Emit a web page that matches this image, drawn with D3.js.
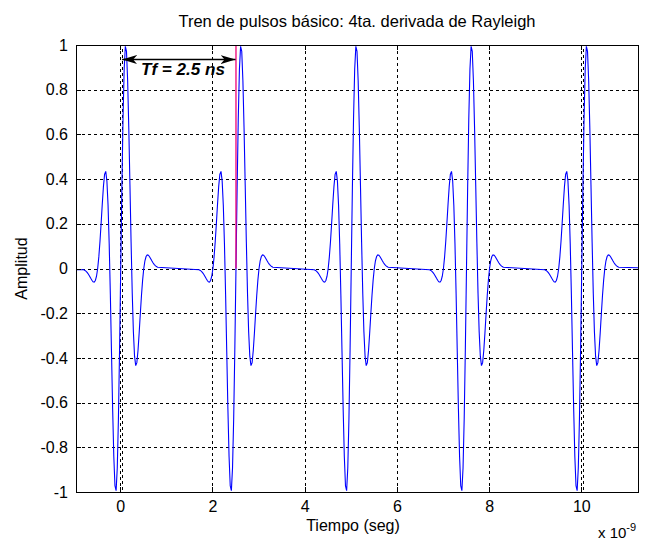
<!DOCTYPE html>
<html><head><meta charset="utf-8">
<script src="https://cdn.jsdelivr.net/npm/d3@7"></script>
<style>body{margin:0;background:#fff}svg{display:block}text{font-family:Arial,"Liberation Sans",sans-serif}</style>
</head><body><div id="chart"></div>
<script>
// ---- data ----
const title = "Tren de pulsos básico: 4ta. derivada de Rayleigh";
const xLabel = "Tiempo (seg)";
const yLabel = "Amplitud";
const xTicks = [0, 2, 4, 6, 8, 10];           // in units of 1e-9 s
const yTicks = [-1, -0.8, -0.6, -0.4, -0.2, 0, 0.2, 0.4, 0.6, 0.8, 1];
const xDomain = [-0.96, 11.23];
const yDomain = [-1, 1];
// pulse centres (ns)
const pulseCenters = [0.01, 2.51, 5.01, 7.51, 10.01];
// dotted marker lines (ns)
const markerLines = [0.03, 10.03];
// sample spacing of one pulse (ns) and amplitudes from -0.8 ns to +0.8 ns
const pulseStep = 0.025;
const pulseShape = [
 -0.0056,-0.0086,-0.0128,-0.0185,-0.0258,-0.0343,-0.0437,-0.0526,-0.0592,-0.0607,-0.0537,-0.0346,0.0000,
  0.0519,0.1207,0.2023,0.2886,0.3668,0.4212,0.4348,0.3922,0.2843,0.1107,-0.1169,-0.3749,-0.6293,
 -0.8410,-0.9722,-0.9938,-0.8922,-0.6730,-0.3618,0.0000,
  0.3618,0.6730,0.8922,0.9938,0.9722,0.8410,0.6293,0.3749,0.1169,-0.1107,-0.2843,-0.3922,-0.4348,
 -0.4212,-0.3668,-0.2886,-0.2023,-0.1207,-0.0519,0.0000,0.0346,0.0537,0.0607,0.0592,0.0526,0.0437,
  0.0343,0.0258,0.0185,0.0128,0.0086,0.0056
];
const periodLabel = "Tf = 2.5 ns";
const periodArrow = {from: 0.04, to: 2.50, y: 0.935};
const magentaAt = 2.51;
const exponentLabel = "-9";

// ---- build series ----
const series = [{t: -2, v: 0}];
const half = (pulseShape.length - 1) / 2;
pulseCenters.forEach(c => {
  pulseShape.forEach((v, i) => series.push({t: c + (i - half) * pulseStep, v}));
});
series.push({t: 12, v: 0});

// ---- layout ----
const W = 645, H = 545;
const L = 76, R = 638, T = 45, B = 492;
const FS = 16;
const svg = d3.select("#chart").append("svg").attr("width", W).attr("height", H);
const x = d3.scaleLinear().domain(xDomain).range([L, R]);
const y = d3.scaleLinear().domain(yDomain).range([B, T]);
const defs = svg.append("defs");
defs.append("clipPath").attr("id", "clip")
  .append("rect").attr("x", L).attr("y", T - 1).attr("width", R - L).attr("height", B - T + 2);

// grid
const grid = svg.append("g").attr("stroke", "#000").attr("stroke-width", 1).attr("stroke-dasharray", "3,3").attr("shape-rendering", "crispEdges");
xTicks.forEach(t => grid.append("line").attr("x1", Math.round(x(t)) + 0.5).attr("x2", Math.round(x(t)) + 0.5).attr("y1", T).attr("y2", B));
yTicks.forEach(t => grid.append("line").attr("y1", Math.round(y(t)) + 0.5).attr("y2", Math.round(y(t)) + 0.5).attr("x1", L).attr("x2", R));

// extra dotted markers
markerLines.forEach(c => {
  svg.append("line").attr("x1", Math.round(x(c)) + 0.5).attr("x2", Math.round(x(c)) + 0.5).attr("y1", T).attr("y2", B)
    .attr("stroke", "#000").attr("stroke-dasharray", "3,3").attr("stroke-dashoffset", 2).attr("shape-rendering", "crispEdges");
});

// signal
const line = d3.line().x(d => x(d.t)).y(d => y(d.v));
svg.append("path").datum(series).attr("clip-path", "url(#clip)")
  .attr("d", line).attr("fill", "none").attr("stroke", "#0000ff").attr("stroke-width", 1.1);

// magenta marker
svg.append("line").attr("x1", x(magentaAt)).attr("x2", x(magentaAt)).attr("y1", y(0)).attr("y2", y(1))
  .attr("stroke", "#ee0077").attr("stroke-width", 1.3);

// axes box & ticks
const axB = svg.append("g").attr("transform", `translate(0,${B})`).call(d3.axisBottom(x).tickValues(xTicks).tickSize(-5).tickFormat(d => String(d)));
const axT = svg.append("g").attr("transform", `translate(0,${T})`).call(d3.axisTop(x).tickValues(xTicks).tickSize(-5).tickFormat(""));
const axL = svg.append("g").attr("transform", `translate(${L},0)`).call(d3.axisLeft(y).tickValues(yTicks).tickSize(-5).tickPadding(8).tickFormat(d => String(d)));
const axR = svg.append("g").attr("transform", `translate(${R},0)`).call(d3.axisRight(y).tickValues(yTicks).tickSize(-5).tickFormat(""));
[axB, axT, axL, axR].forEach(a => {
  a.select(".domain").attr("stroke", "#000").attr("shape-rendering", "crispEdges");
  a.selectAll(".tick line").attr("stroke", "#000").attr("shape-rendering", "crispEdges");
  a.selectAll("text").attr("font-size", FS).attr("fill", "#000").attr("font-family", "Arial, 'Liberation Sans', sans-serif");
});
axB.selectAll(".tick text").attr("y", 20).attr("dy", 0);

// arrow
["start", "end"].forEach(k => {
  defs.append("marker").attr("id", "ah-" + k).attr("viewBox", "0 0 15 9").attr("refX", 15).attr("refY", 4.5)
    .attr("markerWidth", 15).attr("markerHeight", 9).attr("markerUnits", "userSpaceOnUse").attr("orient", k === "start" ? "auto-start-reverse" : "auto")
    .append("path").attr("d", "M0,0 L15,4.5 L0,9 L4,4.5 Z").attr("fill", "#000");
});
svg.append("line").attr("x1", x(periodArrow.from)).attr("x2", x(periodArrow.to))
  .attr("y1", y(periodArrow.y)).attr("y2", y(periodArrow.y)).attr("stroke", "#000").attr("stroke-width", 1.5)
  .attr("marker-start", "url(#ah-start)").attr("marker-end", "url(#ah-end)");
svg.append("text").attr("x", 183).attr("y", 75)
  .attr("text-anchor", "middle").attr("font-size", 16).attr("font-weight", "bold").attr("font-style", "italic")
  .attr("textLength", 84).attr("lengthAdjust", "spacingAndGlyphs").text(periodLabel);

// labels
svg.append("text").attr("x", (L + R) / 2).attr("y", 27).attr("text-anchor", "middle").attr("font-size", 16.5).text(title);
svg.append("text").attr("x", (L + R) / 2 - 4).attr("y", 531).attr("text-anchor", "middle").attr("font-size", FS).text(xLabel);
svg.append("text").attr("transform", `translate(27,${(T + B) / 2}) rotate(-90)`).attr("text-anchor", "middle").attr("font-size", FS).text(yLabel);
const ex = svg.append("text").attr("x", 598).attr("y", 538).attr("font-size", 15);
ex.append("tspan").text("x 10");
ex.append("tspan").attr("dy", -7).attr("font-size", 11).text(exponentLabel);
</script></body></html>
